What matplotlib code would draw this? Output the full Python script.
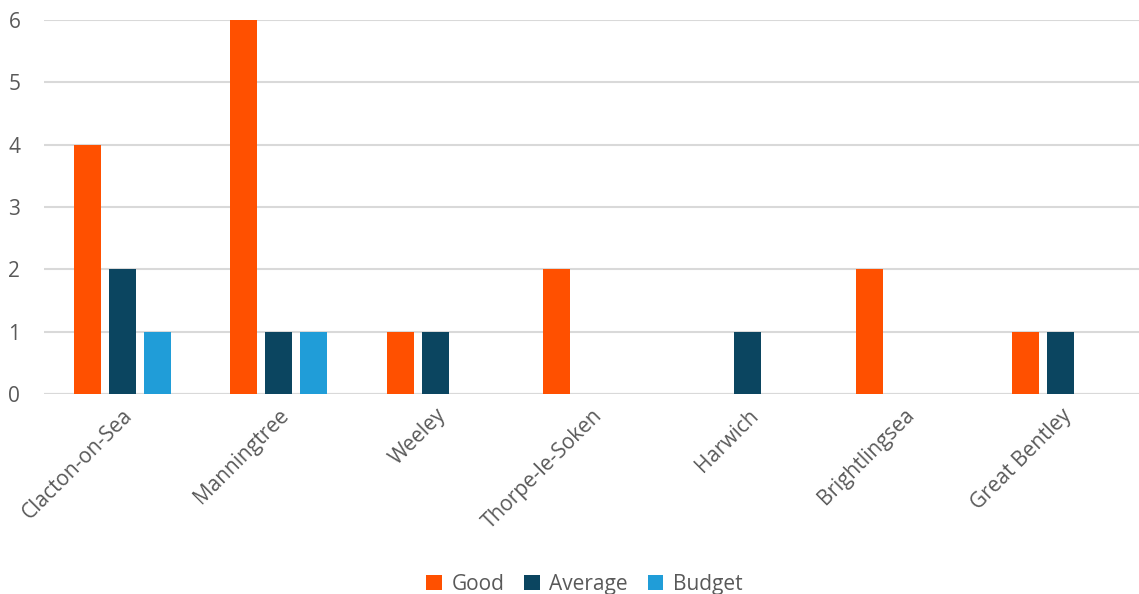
import matplotlib
matplotlib.use("Agg")
import matplotlib.pyplot as plt
import numpy as np

categories = ["Clacton-on-Sea", "Manningtree", "Weeley", "Thorpe-le-Soken", "Harwich", "Brightlingsea", "Great Bentley"]
good = [4, 6, 1, 2, 0, 2, 1]
average = [2, 1, 1, 0, 1, 0, 1]
budget = [1, 1, 0, 0, 0, 0, 0]
series_names = ["Good", "Average", "Budget"]
colors = ["#FF5000", "#0B4560", "#209DD8"]
yticks = [0, 1, 2, 3, 4, 5, 6]

plt.rcParams['font.family'] = ['Open Sans', 'DejaVu Sans']
fig = plt.figure(figsize=(11.39, 5.94), dpi=100)
ax = fig.add_axes([0.0386, 0.337, 0.9614, 0.629])

x = np.arange(len(categories))
w = 0.172
step = 0.223
for i, (vals, name, c) in enumerate(zip([good, average, budget], series_names, colors)):
    ax.bar(x + (i - 1) * step, vals, width=w, color=c, label=name, zorder=3)

ax.set_xlim(-0.5, len(categories) - 0.5)
ax.set_ylim(0, 6)
ax.set_yticks(yticks)
ax.yaxis.grid(True, color="#D9D9D9", linewidth=1.5, zorder=0)
for s in ["top", "right", "left", "bottom"]:
    ax.spines[s].set_visible(False)
ax.axhline(0, color="#D9D9D9", linewidth=1.5, zorder=1)
ax.tick_params(axis="both", length=0, labelsize=15, labelcolor="#595959")
ax.tick_params(axis="y", pad=17)
ax.set_xticks(x)
ax.set_xticklabels(categories, rotation=45, ha="right", rotation_mode="anchor")
ax.tick_params(axis="x", pad=8)

leg = fig.legend(loc="lower center", bbox_to_anchor=(0.513, -0.033), ncol=3, frameon=False,
                 fontsize=15, handlelength=0.75, handleheight=0.75, handletextpad=0.45, columnspacing=0.95)
for t in leg.get_texts():
    t.set_color("#595959")

fig.savefig("out.png", dpi=100)
